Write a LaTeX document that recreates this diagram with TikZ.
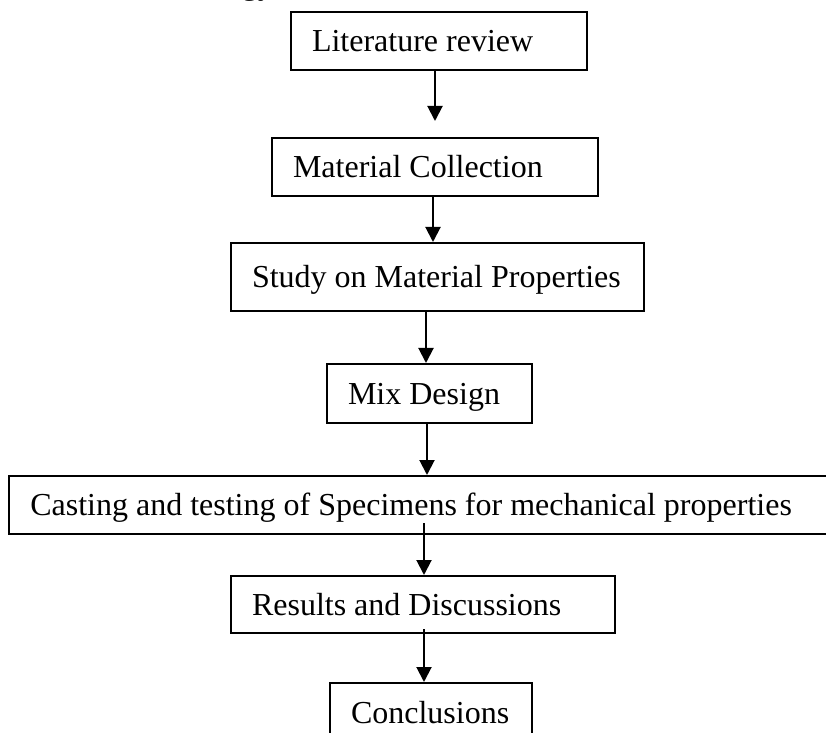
\documentclass[tikz,border=0pt]{standalone}
\usepackage{fontspec}
\setmainfont{Liberation Serif}
\usetikzlibrary{arrows.meta}
\newcommand{\boxtext}[2]{\hbox to #1{#2\hfil}}
\begin{document}
\begin{tikzpicture}[x=0.5pt,y=-0.5pt,
  every node/.style={font=\fontsize{16}{19}\selectfont},
  stepbox/.style={draw, line width=1pt, rectangle, inner xsep=10.5pt, inner ysep=0pt,
    text height=10.6pt, text depth=0pt, minimum height=#1},
  arr/.style={draw, line width=1pt, -{Triangle[width=7.5pt,length=7.5pt]}}]
\useasboundingbox (0,0) rectangle (826,733);
\node[anchor=base east] (title) at (281,-5.5) {Methodology};
\node[stepbox=29pt] (lit) at (439,41) {\boxtext{127pt}{Literature review}};
\node[stepbox=29pt] (mat) at (435,167) {\boxtext{142pt}{Material Collection}};
\node[stepbox=34pt] (study) at (437.5,277) {\boxtext{185.5pt}{Study on Material Properties}};
\node[stepbox=29.5pt] (mix) at (429.5,393.5) {\boxtext{81.5pt}{Mix Design}};
\node[stepbox=29pt] (cast) at (422.65,505) {\boxtext{392.35pt}{Casting and testing of Specimens for mechanical properties}};
\node[stepbox=28.5pt] (res) at (423,604.5) {\boxtext{171pt}{Results and Discussions}};
\node[stepbox=30pt] (conc) at (431,713) {\boxtext{80pt}{Conclusions}};
\coordinate (c1) at (435,0);
\coordinate (c2) at (433,0);
\coordinate (c3) at (426,0);
\coordinate (c4) at (427,0);
\coordinate (c5) at (424,0);
\draw[arr, shorten >=8pt] (lit.south -| c1) -- (mat.north -| c1);
\draw[arr] (mat.south -| c2) -- (study.north -| c2);
\draw[arr] (study.south -| c3) -- (mix.north -| c3);
\draw[arr] (mix.south -| c4) -- (cast.north -| c4);
\draw[arr, shorten <=-6pt] (cast.south -| c5) -- (res.north -| c5);
\draw[arr, shorten <=-2.5pt] (res.south -| c5) -- (conc.north -| c5);
\end{tikzpicture}
\end{document}
